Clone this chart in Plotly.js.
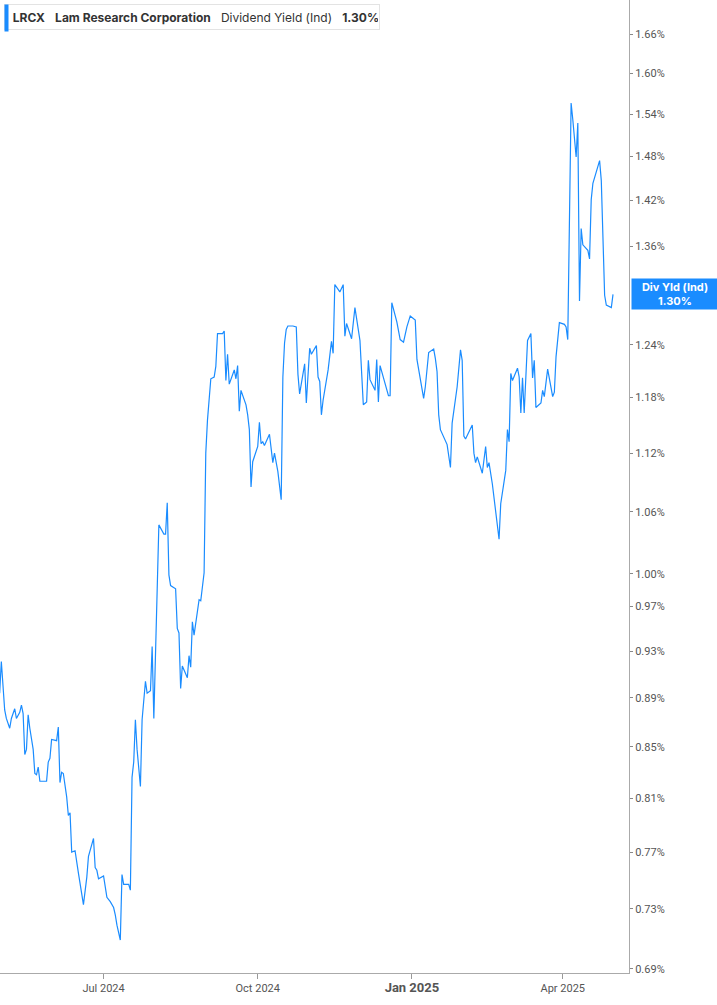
<!DOCTYPE html>
<html>
<head>
<meta charset="utf-8">
<script src="https://cdn.plot.ly/plotly-3.0.1.min.js"></script>
<style>
    html, body { margin: 0; padding: 0; background: #fff; }
    #plot { width: 717px; height: 1005px; }
</style>
</head>
<body>
<div id="plot"></div>
<script>
// LRCX dividend yield (indicated)
const dates = [
    "2024-04-30", "2024-05-01", "2024-05-03", "2024-05-04", "2024-05-06", "2024-05-07", "2024-05-09", "2024-05-10",
    "2024-05-12", "2024-05-13", "2024-05-14", "2024-05-15", "2024-05-16", "2024-05-17", "2024-05-18", "2024-05-20",
    "2024-05-21", "2024-05-22", "2024-05-23", "2024-05-24", "2024-05-28", "2024-05-29", "2024-05-30", "2024-05-31",
    "2024-06-03", "2024-06-04", "2024-06-05", "2024-06-06", "2024-06-07", "2024-06-09", "2024-06-10", "2024-06-11",
    "2024-06-12", "2024-06-14", "2024-06-16", "2024-06-19", "2024-06-21", "2024-06-22", "2024-06-25", "2024-06-26",
    "2024-06-27", "2024-06-28", "2024-07-01", "2024-07-03", "2024-07-05", "2024-07-07", "2024-07-08", "2024-07-09",
    "2024-07-11", "2024-07-12", "2024-07-13", "2024-07-16", "2024-07-17", "2024-07-18", "2024-07-19", "2024-07-20",
    "2024-07-21", "2024-07-23", "2024-07-24", "2024-07-26", "2024-07-27", "2024-07-29", "2024-07-30", "2024-07-31",
    "2024-08-03", "2024-08-06", "2024-08-07", "2024-08-08", "2024-08-09", "2024-08-10", "2024-08-13", "2024-08-14",
    "2024-08-15", "2024-08-16", "2024-08-17", "2024-08-20", "2024-08-21", "2024-08-22", "2024-08-23", "2024-08-24",
    "2024-08-27", "2024-08-28", "2024-08-30", "2024-08-31", "2024-09-01", "2024-09-03", "2024-09-05", "2024-09-06",
    "2024-09-07", "2024-09-10", "2024-09-11", "2024-09-12", "2024-09-13", "2024-09-14", "2024-09-17", "2024-09-18",
    "2024-09-19", "2024-09-20", "2024-09-21", "2024-09-24", "2024-09-25", "2024-09-26", "2024-09-27", "2024-09-28",
    "2024-10-01", "2024-10-02", "2024-10-03", "2024-10-04", "2024-10-05", "2024-10-08", "2024-10-10", "2024-10-11",
    "2024-10-13", "2024-10-15", "2024-10-16", "2024-10-17", "2024-10-18", "2024-10-19", "2024-10-22", "2024-10-24",
    "2024-10-25", "2024-10-26", "2024-10-29", "2024-10-30", "2024-11-01", "2024-11-02", "2024-11-05", "2024-11-06",
    "2024-11-07", "2024-11-08", "2024-11-09", "2024-11-12", "2024-11-14", "2024-11-15", "2024-11-16", "2024-11-19",
    "2024-11-21", "2024-11-22", "2024-11-23", "2024-11-26", "2024-11-28", "2024-12-01", "2024-12-03", "2024-12-05",
    "2024-12-06", "2024-12-07", "2024-12-10", "2024-12-11", "2024-12-12", "2024-12-13", "2024-12-18", "2024-12-19",
    "2024-12-20", "2024-12-23", "2024-12-25", "2024-12-27", "2024-12-29", "2024-12-31", "2025-01-03", "2025-01-04",
    "2025-01-08", "2025-01-09", "2025-01-11", "2025-01-14", "2025-01-15", "2025-01-16", "2025-01-17", "2025-01-18",
    "2025-01-22", "2025-01-24", "2025-01-25", "2025-01-28", "2025-01-30", "2025-01-31", "2025-02-01", "2025-02-02",
    "2025-02-06", "2025-02-07", "2025-02-08", "2025-02-09", "2025-02-12", "2025-02-14", "2025-02-15", "2025-02-16",
    "2025-02-18", "2025-02-20", "2025-02-22", "2025-02-23", "2025-02-26", "2025-02-27", "2025-02-28", "2025-03-01",
    "2025-03-02", "2025-03-05", "2025-03-06", "2025-03-07", "2025-03-08", "2025-03-09", "2025-03-11", "2025-03-13",
    "2025-03-14", "2025-03-15", "2025-03-16", "2025-03-19", "2025-03-20", "2025-03-21", "2025-03-23", "2025-03-26",
    "2025-03-27", "2025-03-28", "2025-03-30", "2025-04-02", "2025-04-03", "2025-04-04", "2025-04-06", "2025-04-07",
    "2025-04-09", "2025-04-10", "2025-04-11", "2025-04-12", "2025-04-13", "2025-04-16", "2025-04-17", "2025-04-18",
    "2025-04-19", "2025-04-23", "2025-04-24", "2025-04-26", "2025-04-27", "2025-04-30", "2025-05-01"
];

const yields = [
    0.894, 0.921, 0.880, 0.873, 0.865, 0.873, 0.881, 0.873,
    0.878, 0.884, 0.877, 0.844, 0.848, 0.876, 0.865, 0.848,
    0.829, 0.828, 0.834, 0.823, 0.823, 0.838, 0.841, 0.856,
    0.855, 0.866, 0.822, 0.830, 0.829, 0.811, 0.797, 0.799,
    0.770, 0.771, 0.755, 0.733, 0.752, 0.767, 0.780, 0.759,
    0.757, 0.751, 0.753, 0.738, 0.735, 0.731, 0.726, 0.719,
    0.709, 0.754, 0.747, 0.747, 0.743, 0.826, 0.838, 0.872,
    0.848, 0.819, 0.872, 0.904, 0.894, 0.896, 0.934, 0.873,
    1.047, 1.038, 1.038, 1.069, 0.999, 0.989, 0.986, 0.950,
    0.946, 0.898, 0.917, 0.907, 0.926, 0.916, 0.956, 0.944,
    0.976, 0.975, 1.001, 1.120, 1.155, 1.201, 1.203, 1.215,
    1.253, 1.253, 1.256, 1.199, 1.229, 1.195, 1.211, 1.201,
    1.216, 1.165, 1.188, 1.172, 1.161, 1.145, 1.085, 1.111,
    1.127, 1.153, 1.130, 1.132, 1.128, 1.140, 1.110, 1.120,
    1.101, 1.072, 1.203, 1.242, 1.258, 1.262, 1.262, 1.261,
    1.206, 1.184, 1.218, 1.174, 1.236, 1.229, 1.239, 1.203,
    1.198, 1.161, 1.177, 1.211, 1.244, 1.230, 1.312, 1.303,
    1.312, 1.250, 1.265, 1.247, 1.284, 1.245, 1.172, 1.175,
    1.222, 1.200, 1.188, 1.223, 1.175, 1.216, 1.182, 1.182,
    1.290, 1.267, 1.246, 1.243, 1.261, 1.274, 1.269, 1.223,
    1.179, 1.192, 1.231, 1.235, 1.224, 1.209, 1.161, 1.145,
    1.129, 1.105, 1.152, 1.192, 1.234, 1.222, 1.138, 1.135,
    1.150, 1.120, 1.110, 1.116, 1.099, 1.127, 1.105, 1.110,
    1.088, 1.059, 1.033, 1.068, 1.102, 1.145, 1.132, 1.207,
    1.199, 1.213, 1.203, 1.163, 1.202, 1.163, 1.245, 1.253,
    1.202, 1.222, 1.169, 1.174, 1.188, 1.181, 1.212, 1.181,
    1.186, 1.226, 1.266, 1.264, 1.261, 1.246, 1.556, 1.532,
    1.479, 1.527, 1.292, 1.383, 1.362, 1.355, 1.344, 1.421,
    1.443, 1.474, 1.447, 1.299, 1.287, 1.284, 1.300
];

// axis ticks (1.30% sits under the last value tag, so it is left out)
const yTicks = [0.69, 0.73, 0.77, 0.81, 0.85, 0.89, 0.93, 0.97, 1.00, 1.06, 1.12, 1.18, 1.24, 1.36, 1.42, 1.48, 1.54, 1.60, 1.66];
const xTicks = ["2024-07-01", "2024-10-01", "2025-01-01", "2025-04-01"];
const xTickLabels = ["Jul 2024", "Oct 2024", "<span style=\"font-size:13px;font-weight:bold\">Jan 2025</span>", "Apr 2025"];

const LINE_BLUE = "#1a8cff";
const lastYield = yields[yields.length - 1];

(function drawChart() {
    const trace = {
        x: dates,
        y: yields,
        type: "scatter",
        mode: "lines",
        line: { color: LINE_BLUE, width: 1.2 },
        hoverinfo: "skip"
    };

    // plot area is 629 x 973 px, the right margin holds the value axis
    const plotW = 629, plotH = 973;

    const layout = {
        width: 717,
        height: 1005,
        margin: { l: 0, r: 717 - plotW, t: 0, b: 1005 - plotH },
        paper_bgcolor: "#fff",
        plot_bgcolor: "#fff",
        showlegend: false,
        font: { family: "Roboto, 'Liberation Sans', sans-serif", color: "#555", size: 11 },
        xaxis: {
            type: "date",
            range: ["2024-04-30 05:00", "2025-05-10 13:00"],
            tickvals: xTicks,
            ticktext: xTickLabels,
            ticks: "outside",
            ticklen: 5,
            tickcolor: "#999",
            showgrid: false,
            zeroline: false,
            showline: true,
            linecolor: "#aaa",
            linewidth: 1,
            tickfont: { size: 11, color: "#555" },
            fixedrange: true
        },
        yaxis: {
            type: "log",
            side: "right",
            range: [Math.log10(0.6874), Math.log10(1.714)],
            tickvals: yTicks,
            ticktext: yTicks.map(v => v.toFixed(2) + "%"),
            ticks: "outside",
            ticklen: 3,
            tickcolor: "#888",
            showgrid: false,
            zeroline: false,
            showline: true,
            linecolor: "#aaa",
            linewidth: 1,
            tickfont: { size: 11, color: "#555" },
            fixedrange: true
        },
        annotations: [
            // header box
            {
                xref: "paper", yref: "paper", x: 0, y: 1,
                xanchor: "left", yanchor: "top", xshift: 4, yshift: -4,
                align: "left",
                showarrow: false,
                width: 372, height: 22,
                borderpad: 1,
                bgcolor: "#fff",
                bordercolor: "#e3e3e3",
                borderwidth: 1,
                font: { family: "Inter, 'Liberation Sans', sans-serif", size: 12, color: "#333" },
                text: "&nbsp;&nbsp;<b>LRCX</b>&nbsp;&nbsp;&nbsp;<b>Lam Research Corporation</b>&nbsp;&nbsp;&nbsp;Dividend Yield (Ind)&nbsp;&nbsp;&nbsp;<b>1.30%</b>"
            },
            // blue marker on the left edge of the header box
            {
                xref: "paper", yref: "paper", x: 0, y: 1,
                xanchor: "left", yanchor: "top", xshift: 4, yshift: -4,
                showarrow: false,
                width: 1, height: 24,
                borderpad: 1,
                bgcolor: LINE_BLUE,
                font: { size: 2 },
                text: "&nbsp;"
            },
            // last value tag on the right axis
            {
                xref: "paper", yref: "y",
                x: 1, y: Math.log10(lastYield),
                xanchor: "left", yanchor: "middle", xshift: 2,
                showarrow: false,
                width: 82, height: 26,
                borderpad: 2,
                bgcolor: LINE_BLUE,
                font: { family: "Inter, 'Liberation Sans', sans-serif", size: 11, color: "#fff" },
                text: "<b>Div Yld (Ind)<br>1.30%</b>"
            }
        ]
    };

    const config = { displayModeBar: false, staticPlot: true };

    Plotly.newPlot("plot", [trace], layout, config);
})();
</script>
</body>
</html>
